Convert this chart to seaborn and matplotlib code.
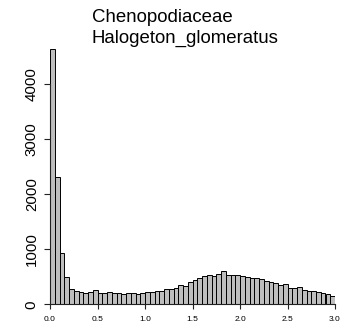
import numpy as np
import pandas as pd
import matplotlib
matplotlib.use("Agg")
import matplotlib.pyplot as plt
import seaborn as sns

# ---- data ----
title_family = "Chenopodiaceae"
title_species = "Halogeton_glomeratus"
bin_start = 0.0
bin_width = 0.05
counts = [4640, 2320, 930, 491, 285, 245, 225, 206, 230, 258,
          206, 206, 229, 206, 206, 188, 200, 200, 188, 202,
          226, 230, 234, 246, 285, 276, 292, 352, 324, 400,
          436, 482, 521, 536, 512, 557, 597, 536, 533, 533,
          509, 497, 473, 473, 461, 430, 412, 388, 345, 364,
          297, 297, 315, 260, 242, 248, 224, 206, 182, 158]
x_ticks = [0.0, 0.5, 1.0, 1.5, 2.0, 2.5, 3.0]
x_labels = ["0.0", "0.5", "1.0", "1.5", "2.0", "2.5", "3.0"]
y_ticks = [0, 1000, 2000, 3000, 4000]
y_labels = ["0", "1000", "2000", "3000", "4000"]

n = len(counts)
centers = bin_start + bin_width * (np.arange(n) + 0.5)
df = pd.DataFrame({"x": centers, "w": counts})

sns.set_style("white")
plt.rcParams["font.family"] = ["Liberation Sans", "DejaVu Sans"]
plt.rcParams["text.color"] = "black"
plt.rcParams["xtick.color"] = "black"
plt.rcParams["ytick.color"] = "black"

W, H = 346, 336
fig = plt.figure(figsize=(W / 100, H / 100), dpi=100)
x0, x1 = 50, 335
yb = 304.3
px_per_unit = 55.0 / 1000.0
top_px = 40
ax = fig.add_axes([x0 / W, (H - yb) / H, (x1 - x0) / W, (yb - top_px) / H])

sns.histplot(data=df, x="x", weights="w", binwidth=bin_width,
             binrange=(bin_start, bin_start + bin_width * n), ax=ax,
             color="#bebebe", edgecolor="black", linewidth=0.7, alpha=1.0)

ax.set_xlim(0, 3)
ax.set_ylim(0, (yb - top_px) / px_per_unit)
ax.set_xlabel("")
ax.set_ylabel("")

for s in ["top", "right"]:
    ax.spines[s].set_visible(False)
ax.spines["left"].set_bounds(0, 4000)
ax.spines["bottom"].set_bounds(0, 3)
for s in ["left", "bottom"]:
    ax.spines[s].set_color("#222222")
    ax.spines[s].set_linewidth(0.8)

ax.set_xticks(x_ticks)
ax.set_xticklabels(x_labels, fontsize=6.0)
ax.set_yticks(y_ticks)
ax.set_yticklabels(y_labels, fontsize=10.8, rotation=90, va="center")
ax.tick_params(axis="x", length=3.6, width=0.8, pad=4.5, color="#222222", labelcolor="black", bottom=True)
ax.tick_params(axis="y", length=4.3, width=0.8, pad=3.8, color="#222222", labelcolor="black", left=True)

fig.text(92 / W, 1 - 21.7 / H, title_family, ha="left", va="baseline", fontsize=13.4, color="black")
fig.text(92 / W, 1 - 43.3 / H, title_species, ha="left", va="baseline", fontsize=13.4, color="black")

fig.savefig("out.png", dpi=100)
